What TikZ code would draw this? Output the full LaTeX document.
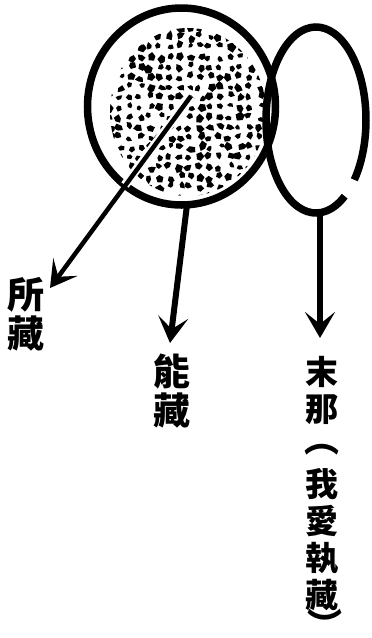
\documentclass[tikz,border=0pt]{standalone}
\usepackage{fontspec}
\newfontfamily\cjk{Noto Sans CJK TC}
\usetikzlibrary{arrows.meta,shapes.geometric}
\begin{document}
\begin{tikzpicture}[x=1pt,y=-1pt,
  ring/.style={line width=7.5pt},
  arr/.style={line width=6pt,-{Stealth[length=26pt,width=30pt,inset=12pt]}},
  lab/.style={font=\cjk\bfseries\fontsize{37}{39}\selectfont, align=center, inner sep=0pt},
  labs/.style={font=\cjk\bfseries\fontsize{33}{37}\selectfont, align=center, inner sep=0pt},
  brk/.style={font=\cjk\bfseries\fontsize{35}{35}\selectfont, inner sep=0pt}]
\useasboundingbox (0,0) rectangle (372,638);
% stipple texture inside the large circle
\begin{scope}
  \clip (188,112) ellipse [x radius=78, y radius=84];
  \pgfmathsetseed{11}
  \foreach \gx in {0,...,16}{
    \foreach \gy in {0,...,17}{
      \pgfmathsetmacro\bx{110+\gx*10+5*rnd-2.5}
      \pgfmathsetmacro\by{27+\gy*10+5*rnd-2.5}
      \pgfmathsetmacro\r{3.0+2.0*rnd}
      \pgfmathsetmacro\t{360*rnd}
      \fill (\bx,\by) +(\t:\r) -- +(\t+70:{\r*(0.5+0.6*rnd)}) -- +(\t+140:{\r*(0.7+0.5*rnd)}) -- +(\t+215:{\r*(0.5+0.6*rnd)}) -- +(\t+290:{\r*(0.6+0.5*rnd)}) -- cycle;
    }
  }
\end{scope}
% the intersection region stays white
\fill[white] (316,120) ellipse [x radius=50, y radius=93];
% the two rings
\node[draw, ring, ellipse, minimum width=188, minimum height=197, inner sep=0pt] (big) at (181.5,106.5) {};
\node[ellipse, minimum width=100, minimum height=186, inner sep=0pt] (small) at (316,120) {};
\draw[ring] (316,120) ++(55:50 and 93) arc[start angle=55, end angle=400, x radius=50, y radius=93];
% coordinates
\coordinate (d0) at (191,96);
\coordinate (dmid) at (125,185);
\coordinate (tipA) at (50,288);
\coordinate (s2) at (187,205);
\coordinate (tipB) at (170,343);
\coordinate (s3) at (320,212);
\coordinate (tipC) at (320,338);
% labels
\node[lab] (suo) at (26,314) {所\\藏};
\node[lab] (neng) at (172,391) {能\\藏};
\node[labs] (mona) at (322,390) {末\\那};
\node[brk] (lp) at (322,450) {︵};
\node[labs] (word) at (322,540) {我\\愛\\執\\藏};
\node[brk] (rp) at (325,624) {︶};
% connectors
\draw[white, line width=9pt] (d0) -- (dmid);
\draw[arr, line width=4.5pt] (d0) -- (tipA);
\draw[arr] (s2) -- (tipB);
\draw[arr] (s3) -- (tipC);
\end{tikzpicture}
\end{document}
